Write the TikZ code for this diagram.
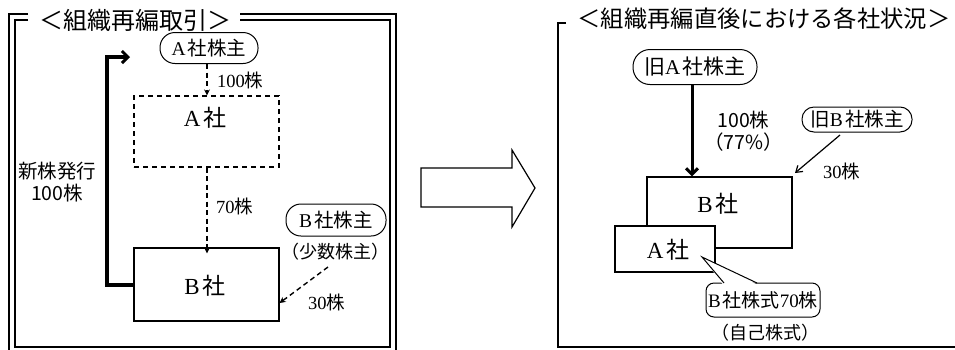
\documentclass[tikz,border=0pt]{standalone}
\usepackage{fontspec}
\setmainfont{Liberation Serif}
\newfontfamily\jp{Noto Sans CJK JP}
\usetikzlibrary{arrows.meta,shapes.callouts}
\newcommand\lt[1]{{\rmfamily #1}\hspace{0.12em}}
\begin{document}
\begin{tikzpicture}[x=1pt,y=-1pt,
  frame/.style={line width=1.4pt},
  pill/.style={draw,line width=1pt,rounded corners=15pt,minimum height=31pt,inner sep=2pt},
  boxs/.style={draw,line width=1.2pt,fill=white},
  dasharrow/.style={line width=1.4pt,dash pattern=on 5pt off 3.5pt,-{Stealth[length=6pt,width=6pt]}},
  lbl/.style={font=\fontsize{18.5}{20}\selectfont,inner sep=0pt},
  sanslbl/.style={font=\jp\fontsize{19.5}{22}\selectfont,inner sep=0pt,align=center}]
\useasboundingbox (0,0) rectangle (955,349);
% left frame
\draw[frame] (28,14) -- (9,14) -- (9,360);
\draw[frame] (28,20) -- (15,20) -- (15,347) -- (390,347) -- (390,20) -- (240,20);
\draw[frame] (240,14) -- (396,14) -- (396,360);
\node[inner sep=0pt,font=\jp\fontsize{24}{28}\selectfont] (t1) at (135,20) {＜組織再編取引＞};
% right frame
\draw[frame] (566,23) -- (558,23) -- (558,347) -- (960,347);
\node[inner sep=0pt,font=\jp\fontsize{23.3}{28}\selectfont] (t2) at (764,19) {＜組織再編直後における各社状況＞};
% big arrow
\draw[line width=1.2pt] (421,168) -- (512,168) -- (512,150) -- (535,188) -- (512,227) -- (512,207) -- (421,207) -- cycle;
% left diagram
\node[pill,minimum width=98pt,font=\fontsize{19.5}{22}\selectfont] (ash) at (209,48) {\lt{A}\jp 社株主};
\node[boxs,dashed,dash pattern=on 5pt off 4pt,minimum width=145pt,minimum height=71pt] (ac) at (206.5,131.5) {};
\node[font=\fontsize{23}{25}\selectfont,inner sep=0pt] (actxt) at (205,118) {\lt{A}\jp 社};
\node[boxs,minimum width=145pt,minimum height=73pt] (bc) at (206.5,284.5) {};
\node[font=\fontsize{23}{25}\selectfont,inner sep=0pt] (bctxt) at (205,286) {\lt{B}\jp 社};
\draw[dasharrow] (ash.south -| 207,0) -- (ac.north -| 207,0);
\node[lbl,anchor=west] (l100) at (217,80) {100{\jp 株}};
\draw[dasharrow] (ac.south -| 207,0) -- ([yshift=-6pt]bc.north -| 207,0);
\node[lbl,anchor=west] (l70) at (216,206) {70{\jp 株}};
\coordinate (turn1) at (107,285);
\coordinate (turn2) at (107,57);
\coordinate (tip1) at (130,57);
\draw[line width=4pt,-{Straight Barb[length=6pt,width=12pt,line width=3pt]}] (bc.west |- 0,285) -- (turn1) -- (turn2) -- (tip1);
\node[sanslbl] (shin) at (57,182) {新株発行\\100株};
\node[pill,minimum width=100pt,minimum height=32pt,font=\fontsize{19.5}{22}\selectfont] (bsh) at (336,220) {\lt{B}\jp 社株主};
\node[lbl,font=\jp\fontsize{18}{20}\selectfont] (shosu) at (335,252) {（少数株主）};
\coordinate (d30s) at (328,267);
\draw[dasharrow] (d30s) -- (bc.east |- 0,303);
\node[lbl,anchor=west] (l30) at (308,302) {30{\jp 株}};
% right diagram
\node[pill,minimum width=124pt,minimum height=35pt,rounded corners=17pt,font=\fontsize{21}{23}\selectfont] (oash) at (695,67) {{\jp 旧}\lt{A}\jp 社株主};
\node[pill,minimum width=110pt,minimum height=25pt,rounded corners=12pt,font=\fontsize{19.5}{21}\selectfont] (obsh) at (857,119.5) {{\jp 旧}\lt{B}\jp 社株主};
\node[boxs,minimum width=145pt,minimum height=71pt] (rb) at (719.5,212.5) {};
\node[font=\fontsize{23}{25}\selectfont,inner sep=0pt] (rbtxt) at (718,204) {\lt{B}\jp 社};
\node[boxs,minimum width=100pt,minimum height=46pt] (ra) at (665,249) {};
\node[font=\fontsize{23}{25}\selectfont,inner sep=0pt] (ratxt) at (668,250) {\lt{A}\jp 社};
\draw[line width=3pt,-{Straight Barb[length=6pt,width=12pt,line width=3pt]}] (oash.south -| 692,0) -- (rb.north -| 692,0);
\node[sanslbl,anchor=west] (r100) at (704,131) {100株\\（77\%）};
\coordinate (r30s) at (840,135);
\draw[line width=1.2pt,-{Straight Barb[length=6pt,width=8pt]}] (r30s) -- (795,173);
\node[lbl,anchor=west] (r30) at (823,171) {30{\jp 株}};
\node[draw,line width=1pt,rounded corners=8pt,fill=white,minimum width=114pt,minimum height=34pt,inner sep=1pt,font=\fontsize{19}{21}\selectfont] (bub) at (763,300) {\lt{B}{\jp 社株式}70{\jp 株}};
\fill[white] (723,284.5) -- (702,257) -- (757,284.5) -- cycle;
\draw[line width=1pt] (724,283) -- (702,257) -- (757,283);
\node[lbl,font=\jp\fontsize{18}{20}\selectfont] (jiko) at (765,333) {（自己株式）};
\end{tikzpicture}
\end{document}
